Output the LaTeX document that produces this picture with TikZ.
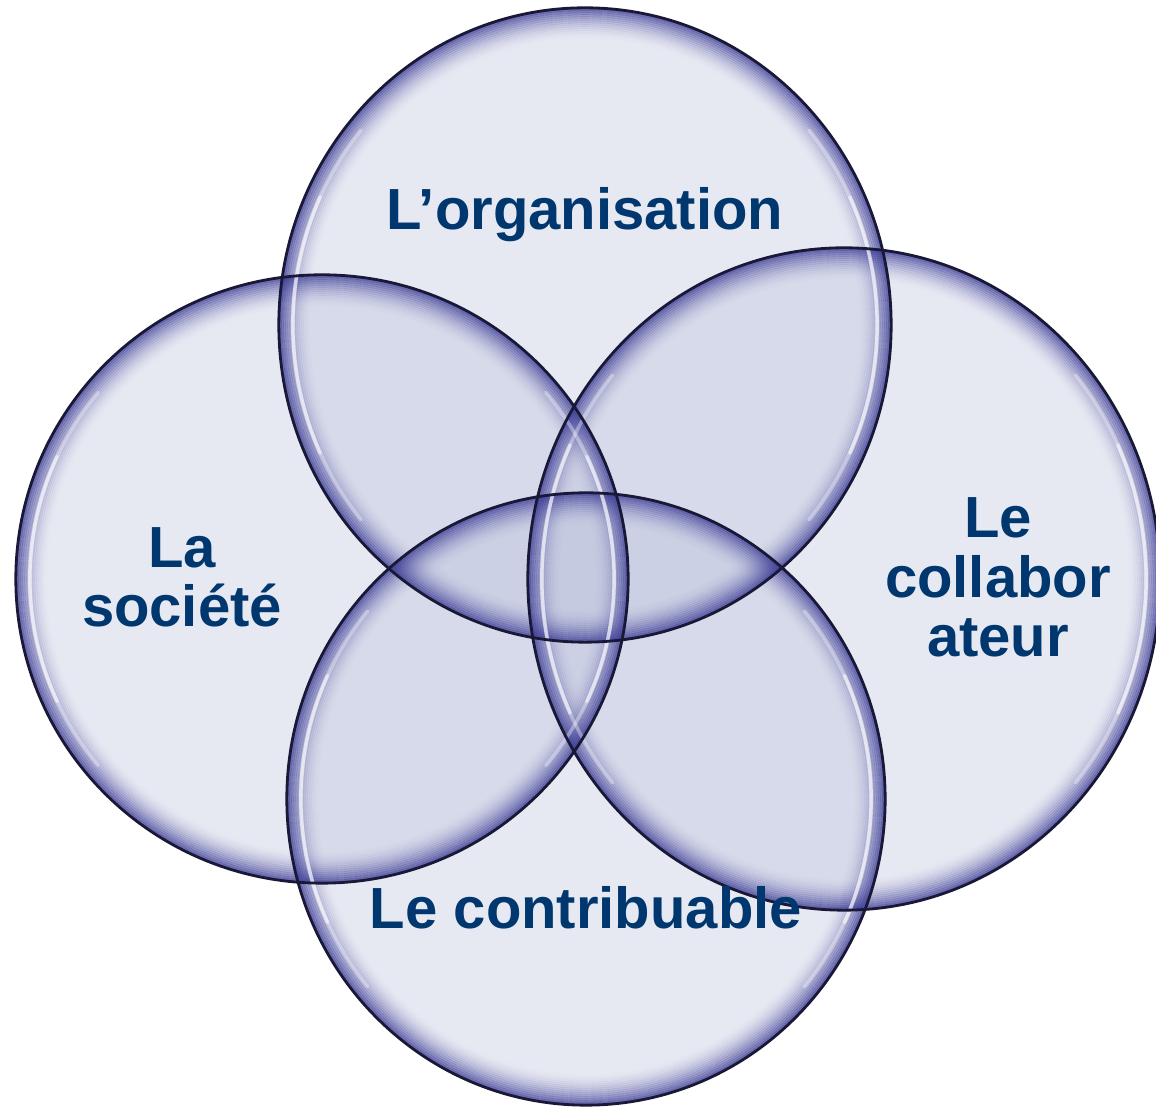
\documentclass[tikz,border=0pt]{standalone}
\usepackage{fontspec}
\setmainfont{Liberation Sans}
\usetikzlibrary{positioning}
\definecolor{navytext}{RGB}{0,55,110}
\definecolor{bubblefill}{RGB}{182,188,216}
\definecolor{glowblue}{RGB}{60,60,150}
\definecolor{rimdark}{RGB}{25,25,55}
% inner glow of a bubble: centre, x radius, y radius (cm)
\newcommand{\bubbleglow}[3]{%
  \begin{scope}
    \clip (#1) ellipse [x radius=#2cm, y radius=#3cm];
    \foreach \k in {0,...,16}
      \draw[glowblue, line width=0.022cm, draw opacity={0.8*(1-\k/17)*(1-\k/17)}]
        (#1) ellipse [x radius={#2cm-\k*0.02cm}, y radius={#3cm-\k*0.02cm}];
  \end{scope}}
% white gloss on both sides
\newcommand{\bubbleshine}[3]{%
  \begin{scope}[shift={(#1)}]
    \draw[shine, draw opacity=0.35] (140:{#2cm-0.14cm} and {#3cm-0.14cm})
      arc [start angle=140, end angle=220, x radius={#2cm-0.14cm}, y radius={#3cm-0.14cm}];
    \draw[shine, draw opacity=0.55] (155:{#2cm-0.14cm} and {#3cm-0.14cm})
      arc [start angle=155, end angle=205, x radius={#2cm-0.14cm}, y radius={#3cm-0.14cm}];
    \draw[shine, draw opacity=0.35] (-40:{#2cm-0.14cm} and {#3cm-0.14cm})
      arc [start angle=-40, end angle=40, x radius={#2cm-0.14cm}, y radius={#3cm-0.14cm}];
    \draw[shine, draw opacity=0.55] (-25:{#2cm-0.14cm} and {#3cm-0.14cm})
      arc [start angle=-25, end angle=25, x radius={#2cm-0.14cm}, y radius={#3cm-0.14cm}];
  \end{scope}}

\begin{document}
\begin{tikzpicture}[x=0.01cm, y=-0.01cm,
    bubble/.style={fill=bubblefill, fill opacity=0.33},
    rim/.style={draw=rimdark, line width=0.8pt},
    shine/.style={white, line width=0.035cm, line cap=round},
    titre/.style={text=navytext, font=\fontsize{16.5pt}{17pt}\selectfont\bfseries, align=center, inner sep=0pt}]
  \useasboundingbox (0,0) rectangle (1156,1107);
  %centres
  \coordinate (org) at (585,325);
  \coordinate (soc) at (322,579);
  \coordinate (col) at (844,579);
  \coordinate (con) at (586,799);
  %fills
  \fill[bubble] (org) ellipse [x radius=3.06cm, y radius=3.17cm];
  \fill[bubble] (soc) ellipse [x radius=3.06cm, y radius=3.04cm];
  \fill[bubble] (col) ellipse [x radius=3.16cm, y radius=3.31cm];
  \fill[bubble] (con) ellipse [x radius=2.99cm, y radius=3.06cm];
  %glow and gloss
  \bubbleglow{org}{3.06}{3.17}
  \bubbleglow{soc}{3.06}{3.04}
  \bubbleglow{col}{3.16}{3.31}
  \bubbleglow{con}{2.99}{3.06}
  \bubbleshine{org}{3.06}{3.17}
  \bubbleshine{soc}{3.06}{3.04}
  \bubbleshine{col}{3.16}{3.31}
  \bubbleshine{con}{2.99}{3.06}
  %rims
  \draw[rim] (org) ellipse [x radius=3.06cm, y radius=3.17cm];
  \draw[rim] (soc) ellipse [x radius=3.06cm, y radius=3.04cm];
  \draw[rim] (col) ellipse [x radius=3.16cm, y radius=3.31cm];
  \draw[rim] (con) ellipse [x radius=2.99cm, y radius=3.06cm];
  %labels
  \node[titre, anchor=base] (torg) at (585,230) {L’organisation};
  \node[titre, anchor=base] (tsoc) at (182,627) {La\\société};
  \node[titre, anchor=base] (tcol) at (998,657) {Le\\collabor\\ateur};
  \node[titre, anchor=base] (tcon) at (586,929) {Le contribuable};
\end{tikzpicture}
\end{document}
